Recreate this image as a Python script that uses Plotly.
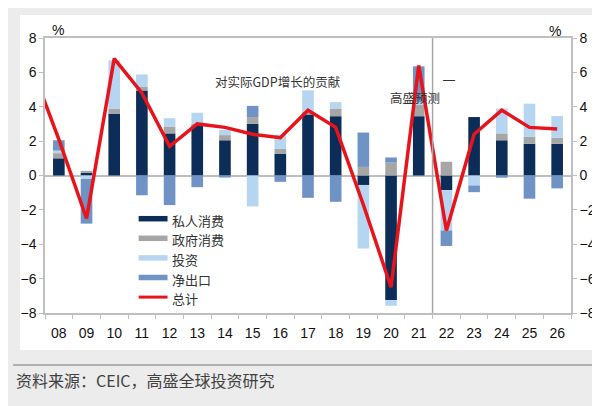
import plotly.graph_objects as go

# 年份（柱状图），总计线多一个 07 起点（画在左边界之外，被裁掉）
years = ["08", "09", "10", "11", "12", "13", "14", "15", "16", "17",
         "18", "19", "20", "21", "22", "23", "24", "25", "26"]
total_years = ["07"] + years

private = [1.0, 0.15, 3.6, 4.95, 2.45, 2.9, 2.05, 3.0, 1.25, 3.55,
           3.45, -0.55, -7.25, 3.45, -0.85, 3.4, 2.05, 1.85, 1.85]
gov = [0.3, 0.12, 0.3, 0.2, 0.4, 0.1, 0.3, 0.4, 0.3, 0.15,
       0.45, 0.5, 0.75, 0.7, 0.8, 0.0, 0.4, 0.4, 0.35]
invest = [0.15, -0.2, 2.8, 0.73, 0.48, 0.65, 0.3, -1.8, 0.83, 1.25,
          0.37, -3.7, -0.33, 0.1, -2.35, -0.58, 1.45, 1.93, 1.26]
netexp = [0.6, -2.6, 0.0, -1.15, -1.72, -0.68, -0.12, 0.65, -0.37, -1.3,
          -1.53, 2.0, 0.3, 2.1, -0.9, -0.39, -0.13, -1.35, -0.75]
total = [6.4, 2.1, -2.5, 6.8, 4.8, 1.7, 3.0, 2.8, 2.4, 2.2, 3.8,
         2.8, -1.7, -6.5, 6.4, -3.2, 2.4, 3.8, 2.8, 2.7]

names = ["私人消费", "政府消费", "投资", "净出口", "总计"]
colors = ["#0c2d57", "#a6a6a6", "#b5d5f0", "#7093c6", "#e8141c"]

CJK = "Noto Sans CJK SC"
AX = "#bfbfbf"

# 绘图区像素位置（600x406 画布）
L, R, T, B = 37, 565, 30, 305


def px_x(px):
    return (px - L) / (R - L)


def px_y(py):
    return (B - py) / (B - T)


fig = go.Figure()
for name, vals, color in zip(names[:4], [private, gov, invest, netexp], colors[:4]):
    fig.add_trace(go.Bar(x=years, y=vals, name=name, marker_color=color,
                         marker_line_width=0, showlegend=False))

fig.add_trace(go.Scatter(x=total_years, y=total, name="总计", mode="lines",
                         line={"color": colors[4], "width": 3.5},
                         yaxis="y2", showlegend=False))

shapes = [
    # 白色面板
    dict(type="rect", xref="paper", yref="paper", layer="below",
         x0=px_x(12), x1=px_x(591), y0=px_y(342), y1=px_y(7),
         fillcolor="white", line_width=0),
    # 底部分隔线
    dict(type="line", xref="paper", yref="paper",
         x0=px_x(5), x1=px_x(595), y0=px_y(357), y1=px_y(357),
         line={"color": "#b0b0b0", "width": 2}),
    # 预测分界线（21 与 22 之间）
    dict(type="line", xref="x", yref="paper", x0=14.5, x1=14.5, y0=0, y1=1,
         line={"color": "#a6a6a6", "width": 1.5}),
]

annotations = [
    dict(text="%", x=px_x(42), y=px_y(12), font={"size": 14, "color": "#111"}),
    dict(text="%", x=px_x(557), y=px_y(13), font={"size": 14, "color": "#111"}),
    dict(text="对实际GDP增长的贡献", x=px_x(270), y=px_y(62),
         font={"size": 12.5, "color": "#333", "family": CJK}),
    dict(text="—", x=px_x(451), y=px_y(63), font={"size": 12, "color": "#333"}),
    dict(text="高盛预测", x=px_x(436), y=px_y(78),
         font={"size": 12.5, "color": "#333", "family": CJK}),
    dict(text="资料来源：CEIC，高盛全球投资研究", x=px_x(6), y=px_y(386),
         xanchor="left", font={"size": 16, "color": "#404040", "family": CJK}),
]

# 自制图例：粗线在上，文字偏下
for i, (name, color) in enumerate(zip(names, colors)):
    sy = 210.7 + 19.6 * i
    shapes.append(dict(type="line", xref="paper", yref="paper",
                       x0=px_x(131), x1=px_x(160), y0=px_y(sy), y1=px_y(sy),
                       line={"color": color, "width": 3 if i == 4 else 5.5}))
    annotations.append(dict(text=name, x=px_x(162), y=px_y(sy + 13),
                            xanchor="left",
                            font={"size": 13, "color": "#333", "family": CJK}))

for a in annotations:
    a.update(xref="paper", yref="paper", showarrow=False)

fig.update_layout(
    width=600,
    height=406,
    margin={"l": L, "r": 600 - R, "t": T, "b": 406 - B},
    paper_bgcolor="#ececec",
    plot_bgcolor="white",
    barmode="relative",
    bargap=0.58,
    showlegend=False,
    font={"family": "Liberation Sans", "color": "#111"},
    shapes=shapes,
    annotations=annotations,
    xaxis=dict(type="category", categoryorder="array", categoryarray=total_years,
               range=[0.5, 19.5], tickson="boundaries", ticks="outside", ticklen=4,
               tickcolor=AX, showline=True, linecolor=AX, linewidth=1.5, mirror=True,
               showgrid=False, tickfont={"size": 14}, ticklabelstandoff=6),
    yaxis=dict(range=[-8, 8], dtick=2, ticks="outside", ticklen=4, tickcolor=AX,
               showline=True, linecolor=AX, linewidth=1.5, showgrid=False,
               zeroline=True, zerolinecolor=AX, zerolinewidth=1.5,
               tickfont={"size": 14}),
    yaxis2=dict(range=[-8, 8], dtick=2, overlaying="y", side="right",
                ticks="outside", ticklen=4, tickcolor=AX, showline=True,
                linecolor=AX, linewidth=1.5, showgrid=False, zeroline=False,
                tickfont={"size": 14}),
)

fig.write_html("out.html")
